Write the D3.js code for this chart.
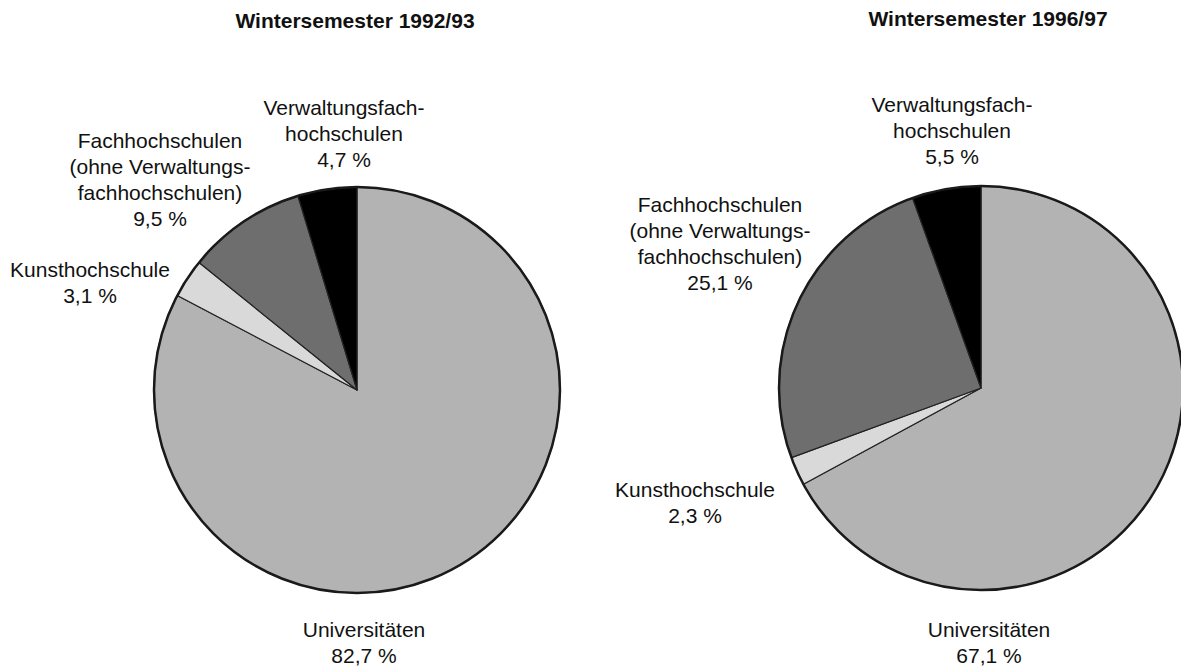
<!DOCTYPE html>
<html>
<head>
<meta charset="utf-8">
<script src="https://cdn.jsdelivr.net/npm/d3@7"></script>
<style>
  html, body { margin: 0; padding: 0; background: #fff; }
  svg { display: block; }
  text { font-family: "Liberation Sans", Arial, Helvetica, sans-serif; fill: #111; }
</style>
</head>
<body>
<svg id="chart"></svg>
<script>
// Data
const categories = ["Universitäten", "Kunsthochschule", "Fachhochschulen", "Verwaltungsfachhochschulen"];
const labelLines = [
  ["Universitäten"],
  ["Kunsthochschule"],
  ["Fachhochschulen", "(ohne Verwaltungs-", "fachhochschulen)"],
  ["Verwaltungsfach-", "hochschulen"]
];
const titles = ["Wintersemester 1992/93", "Wintersemester 1996/97"];
const values1992 = [82.7, 3.1, 9.5, 4.7];
const values1996 = [67.1, 2.3, 25.1, 5.5];

const width = 1181, height = 671;
const svg = d3.select("#chart").attr("width", width).attr("height", height);

const color = d3.scaleOrdinal()
  .domain(categories)
  .range(["#b3b3b3", "#d9d9d9", "#6e6e6e", "#000000"]);

const fmt = v => d3.format(".1f")(v).replace(".", ",") + " %";

// Layout of the two pies and their label anchors (x centre, first baseline)
const charts = [
  {
    title: titles[0], values: values1992, cx: 357, cy: 390, r: 203, titleX: 355, titleY: 28,
    labels: [[364, 637], [90, 277], [160, 148], [344, 115]]
  },
  {
    title: titles[1], values: values1996, cx: 981, cy: 388, r: 202, titleX: 988, titleY: 26,
    labels: [[989, 637], [695, 497], [720, 212], [952, 112]]
  }
];

const pie = d3.pie().sort(null).value(d => d.value);
const lineH = 26;

charts.forEach(c => {
  const g = svg.append("g");
  const data = categories.map((name, i) => ({ name, value: c.values[i], lines: labelLines[i] }));
  const arcs = pie(data);
  const arc = d3.arc().innerRadius(0).outerRadius(c.r);

  const pieG = g.append("g").attr("transform", `translate(${c.cx},${c.cy})`);
  pieG.selectAll("path")
    .data(arcs)
    .join("path")
    .attr("d", arc)
    .attr("fill", d => color(d.data.name))
    .attr("stroke", "#222")
    .attr("stroke-width", 1.2)
    .attr("stroke-linejoin", "round");

  // dark rim round the pie
  pieG.append("circle")
    .attr("r", c.r)
    .attr("fill", "none")
    .attr("stroke", "#1a1a1a")
    .attr("stroke-width", 2.5);

  g.append("text")
    .attr("x", c.titleX)
    .attr("y", c.titleY)
    .attr("text-anchor", "middle")
    .attr("font-size", 21)
    .attr("font-weight", "bold")
    .text(c.title);

  data.forEach((d, i) => {
    const [lx, ly] = c.labels[i];
    const t = g.append("text")
      .attr("text-anchor", "middle")
      .attr("font-size", 21);
    d.lines.concat([fmt(d.value)]).forEach((line, j) => {
      t.append("tspan").attr("x", lx).attr("y", ly + j * lineH).text(line);
    });
  });
});
</script>
</body>
</html>
